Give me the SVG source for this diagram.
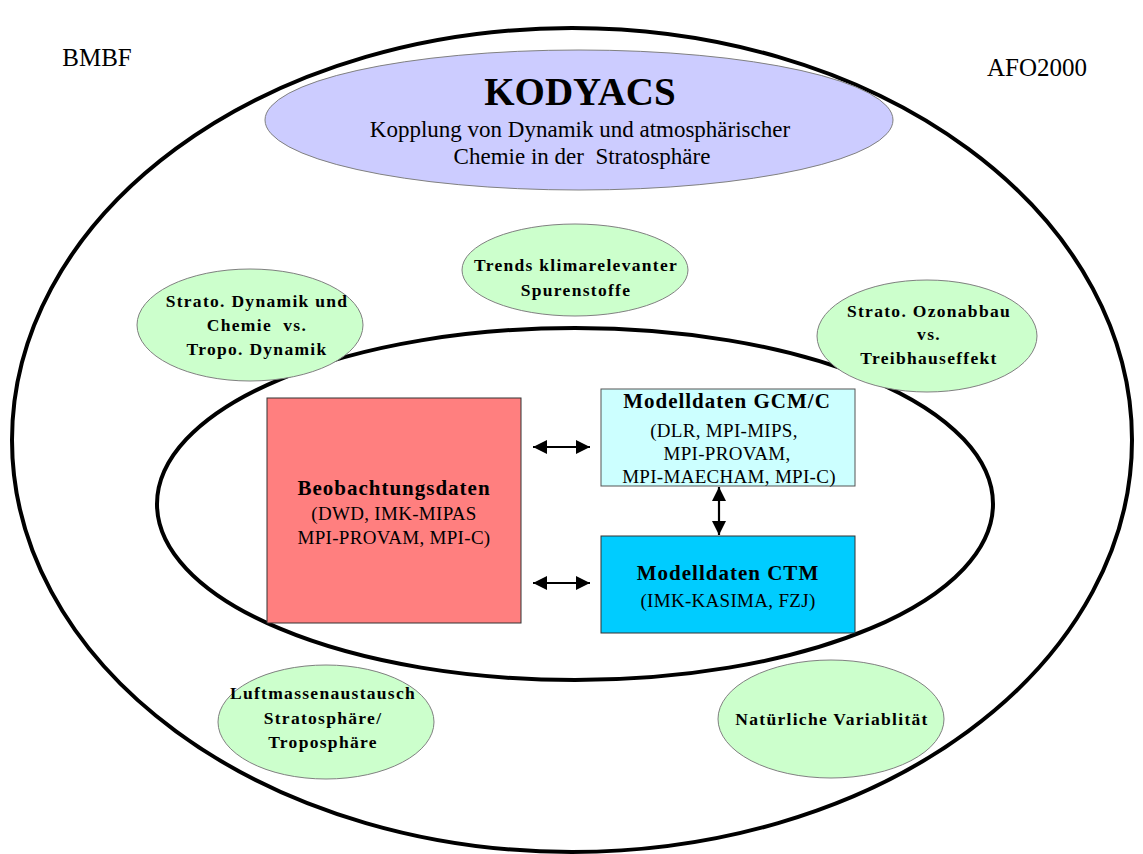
<svg xmlns="http://www.w3.org/2000/svg" width="1143" height="854" viewBox="0 0 1143 854">
  <style>
    text { font-family: "Liberation Serif", "Times New Roman", serif; fill: #000; text-anchor: middle; }
    .big { fill: none; stroke: #000; stroke-width: 4; }
    .topic { fill: #ccffcc; stroke: #808080; stroke-width: 1; }
    .tt { font-size: 17.5px; font-weight: bold; letter-spacing: 1.3px; }
    .bt { font-size: 21px; font-weight: bold; letter-spacing: 1px; }
    .st { font-size: 19px; letter-spacing: 0.3px; }
    .corner { font-size: 25px; }
    .arr { stroke: #000; stroke-width: 2.2; fill: none; marker-start: url(#ah); marker-end: url(#ah); }
  </style>
  <defs>
    <marker id="ah" markerUnits="userSpaceOnUse" viewBox="0 0 14 14" markerWidth="14" markerHeight="14" refX="14" refY="7" orient="auto-start-reverse">
      <path d="M0,0 L14,7 L0,14 z" fill="#000"/>
    </marker>
  </defs>
  <rect x="0" y="0" width="1143" height="854" fill="#fff"/>

  <g id="outer-frame">
    <ellipse class="big" cx="572" cy="440" rx="560" ry="412"/>
  </g>
  <g id="inner-frame">
    <ellipse class="big" cx="575" cy="504" rx="418" ry="176"/>
  </g>

  <g id="bmbf"><text class="corner" x="97" y="66">BMBF</text></g>
  <g id="afo2000"><text class="corner" x="1037" y="76">AFO2000</text></g>

  <g id="kodyacs">
    <ellipse cx="579" cy="120" rx="314" ry="70" fill="#ccccff" stroke="#808080" stroke-width="1"/>
    <text x="580" y="105" style="font-size:39px;font-weight:bold">KODYACS</text>
    <text x="580" y="137" style="font-size:23px">Kopplung von Dynamik und atmosphärischer</text>
    <text x="582" y="164" style="font-size:23px" xml:space="preserve">Chemie in der  Stratosphäre</text>
  </g>

  <g id="trends">
    <ellipse class="topic" cx="575" cy="270" rx="113" ry="46"/>
    <text class="tt" x="576" y="271">Trends klimarelevanter</text>
    <text class="tt" x="576" y="296">Spurenstoffe</text>
  </g>

  <g id="strato-dynamik">
    <ellipse class="topic" cx="250" cy="325" rx="113" ry="56"/>
    <text class="tt" x="257" y="307">Strato. Dynamik und</text>
    <text class="tt" x="257" y="331" xml:space="preserve">Chemie  vs.</text>
    <text class="tt" x="257" y="355">Tropo. Dynamik</text>
  </g>

  <g id="ozonabbau">
    <ellipse class="topic" cx="927" cy="336" rx="110" ry="56"/>
    <text class="tt" x="929" y="317">Strato. Ozonabbau</text>
    <text class="tt" x="929" y="340">vs.</text>
    <text class="tt" x="929" y="364">Treibhauseffekt</text>
  </g>

  <g id="luftmassen">
    <ellipse class="topic" cx="326" cy="722" rx="108" ry="57"/>
    <text class="tt" x="323" y="699">Luftmassenaustausch</text>
    <text class="tt" x="323" y="724">Stratosphäre/</text>
    <text class="tt" x="323" y="748">Troposphäre</text>
  </g>

  <g id="variabilitaet">
    <ellipse class="topic" cx="831" cy="719" rx="113" ry="59"/>
    <text class="tt" x="832" y="725">Natürliche Variablität</text>
  </g>

  <g id="beobachtungsdaten">
    <rect x="267" y="398" width="254" height="225" fill="#ff7f7f" stroke="#333" stroke-width="1"/>
    <text class="bt" x="394" y="495">Beobachtungsdaten</text>
    <text class="st" x="394" y="520">(DWD, IMK-MIPAS</text>
    <text class="st" x="394" y="544">MPI-PROVAM, MPI-C)</text>
  </g>

  <g id="gcm">
    <rect x="601" y="389" width="254" height="97" fill="#ccffff" stroke="#555" stroke-width="1"/>
    <text class="bt" x="727" y="408">Modelldaten GCM/C</text>
    <text class="st" x="724" y="437">(DLR, MPI-MIPS,</text>
    <text class="st" x="727" y="460">MPI-PROVAM,</text>
    <text class="st" x="729" y="483">MPI-MAECHAM, MPI-C)</text>
  </g>

  <g id="ctm">
    <rect x="601" y="536" width="254" height="97" fill="#00ccff" stroke="#333" stroke-width="1"/>
    <text class="bt" x="728" y="580">Modelldaten CTM</text>
    <text class="st" x="728" y="607">(IMK-KASIMA, FZJ)</text>
  </g>

  <g id="connectors">
    <line class="arr" x1="533" y1="447" x2="590" y2="447"/>
    <line class="arr" x1="533" y1="583" x2="590" y2="583"/>
    <line class="arr" x1="719" y1="487" x2="719" y2="535"/>
  </g>
</svg>
